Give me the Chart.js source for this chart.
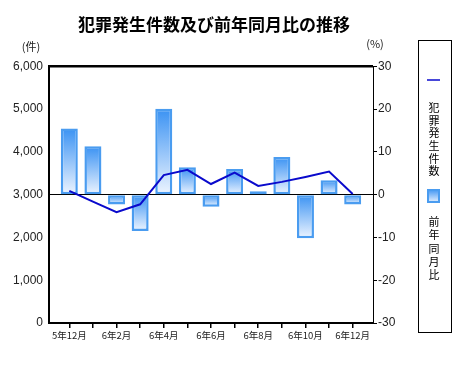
<!DOCTYPE html>
<html>
<head>
<meta charset="utf-8">
<script src="https://cdn.jsdelivr.net/npm/chart.js@4"></script>
<style>
  body { margin: 0; background: #fff; }
  #wrap { width: 472px; height: 365px; }
</style>
</head>
<body>
<div id="wrap"><canvas id="crimeChart"></canvas></div>
<script>
const months = ['5年12月', '6年1月', '6年2月', '6年3月', '6年4月', '6年5月', '6年6月', '6年7月', '6年8月', '6年9月', '6年10月', '6年11月', '6年12月'];
const crimeCount = [3090, 2840, 2590, 2775, 3460, 3580, 3250, 3515, 3205, 3300, 3415, 3540, 3015];
const yoyRate = [15.5, 11.3, -2.3, -8.5, 20.1, 6.4, -2.8, 6.0, 0.8, 8.8, -10.2, 3.4, -2.3];
const countTicks = [0, 1000, 2000, 3000, 4000, 5000, 6000];
const rateTicks = [-30, -20, -10, 0, 10, 20, 30];

const lineColor = '#0A0ACC';
const barBorder = '#4A9CF0';

function barGradient(c) {
  const chart = c.chart;
  if (!chart.chartArea || c.type !== 'data') return '#7DB8F7';
  const y1 = chart.scales.y1;
  const v = c.raw;
  const top = y1.getPixelForValue(Math.max(v, 0));
  const bot = y1.getPixelForValue(Math.min(v, 0));
  const g = chart.ctx.createLinearGradient(0, top, 0, bot);
  g.addColorStop(0, '#3A92F3');
  g.addColorStop(1, '#EEF5FF');
  return g;
}

// units and the boxed vertical legend on the right
const extras = {
  id: 'extras',
  afterDraw(chart) {
    const ctx = chart.ctx;
    ctx.save();
    ctx.fillStyle = '#222';
    ctx.font = '11px "Noto Sans CJK JP"';
    ctx.textAlign = 'center';
    ctx.textBaseline = 'middle';
    ctx.fillText('(件)', 31, 47);
    ctx.fillText('(%)', 375, 44);

    ctx.strokeStyle = '#000';
    ctx.lineWidth = 1;
    ctx.strokeRect(418.5, 40.5, 33, 292);

    ctx.strokeStyle = lineColor;
    ctx.lineWidth = 1.5;
    ctx.beginPath();
    ctx.moveTo(427, 80);
    ctx.lineTo(440, 80);
    ctx.stroke();

    ctx.fillStyle = '#000';
    ctx.font = '11px "Noto Sans CJK JP"';
    '犯罪発生件数'.split('').forEach((ch, i) => ctx.fillText(ch, 434, 108 + i * 12.6));

    const g = ctx.createLinearGradient(0, 189, 0, 203);
    g.addColorStop(0, '#3A92F3');
    g.addColorStop(1, '#EEF5FF');
    ctx.fillStyle = g;
    ctx.fillRect(427, 189, 13, 14);
    ctx.strokeStyle = barBorder;
    ctx.lineWidth = 2;
    ctx.strokeRect(428, 190, 11, 12);

    ctx.fillStyle = '#000';
    '前年同月比'.split('').forEach((ch, i) => ctx.fillText(ch, 434, 222 + i * 13.3));
    ctx.restore();
  }
};

const ctx = document.getElementById('crimeChart').getContext('2d');
const crimeChart = new Chart(ctx, {
  type: 'bar',
  data: {
    labels: months,
    datasets: [{
      type: 'line',
      label: '犯罪発生件数',
      data: crimeCount,
      yAxisID: 'y',
      borderColor: lineColor,
      borderWidth: 2,
      pointRadius: 0,
      tension: 0,
      order: 0
    }, {
      type: 'bar',
      label: '前年同月比',
      data: yoyRate,
      yAxisID: 'y1',
      backgroundColor: barGradient,
      borderColor: barBorder,
      borderWidth: 2.5,
      borderSkipped: false,
      barPercentage: 0.72,
      categoryPercentage: 1,
      order: 1
    }]
  },
  options: {
    responsive: true,
    maintainAspectRatio: false,
    animation: false,
    layout: { padding: { left: 0, right: 44, top: 0, bottom: 0 } },
    plugins: {
      legend: { display: false },
      tooltip: { enabled: false },
      title: {
        display: true,
        text: '犯罪発生件数及び前年同月比の推移',
        color: '#000',
        font: { family: '"Noto Sans CJK JP"', size: 17, weight: 'bold' },
        padding: { top: 14, bottom: 32 }
      }
    },
    scales: {
      x: {
        afterBuildTicks(axis) {
          axis._startValue = -0.86;
          axis._valueRange = months.length - 1 + 1.72;
        },
        afterFit(axis) { axis.height = 42; },
        border: { display: true, color: '#000', width: 2 },
        grid: { offset: false, drawOnChartArea: false, drawTicks: true, tickLength: 5, color: '#000', lineWidth: 1.5 },
        ticks: {
          autoSkip: false,
          maxRotation: 0,
          padding: 2,
          color: '#222',
          font: { family: '"Noto Sans CJK JP"', size: 9.5 },
          callback: (v, i) => (i % 2 === 0 ? months[i] : '')
        }
      },
      y: {
        position: 'left',
        min: countTicks[0],
        max: countTicks[countTicks.length - 1],
        afterBuildTicks(axis) { axis.ticks = countTicks.map(v => ({ value: v })); },
        afterFit(axis) { axis.width = 49; },
        border: { display: true, color: '#000', width: 2 },
        grid: {
          drawTicks: false,
          color: c => (c.tick.value === 3000 || c.tick.value === 6000 ? '#000' : 'rgba(0,0,0,0)'),
          lineWidth: c => (c.tick.value === 6000 ? 2.5 : 1)
        },
        ticks: {
          padding: 6,
          color: '#222',
          font: { family: '"Liberation Sans"', size: 12 },
          callback: v => v.toLocaleString('en-US')
        }
      },
      y1: {
        position: 'right',
        min: rateTicks[0],
        max: rateTicks[rateTicks.length - 1],
        afterBuildTicks(axis) { axis.ticks = rateTicks.map(v => ({ value: v })); },
        afterFit(axis) { axis.width = 55; },
        border: { display: true, color: '#000', width: 1 },
        grid: { drawOnChartArea: false, drawTicks: true, tickLength: 4, color: '#000' },
        ticks: {
          padding: 1,
          color: '#222',
          font: { family: '"Liberation Sans"', size: 12 }
        }
      }
    }
  },
  plugins: [extras]
});
</script>
</body>
</html>
